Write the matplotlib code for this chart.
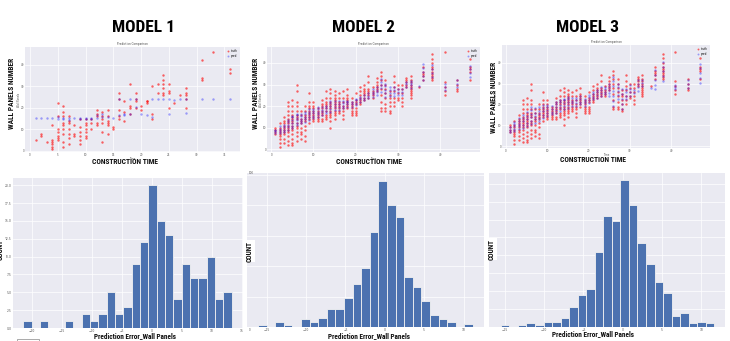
import matplotlib
matplotlib.use("Agg")
import matplotlib.pyplot as plt
import numpy as np
from matplotlib.patches import Rectangle

# ---- Model 1 scatter: construction time vs wall panels ----
m1_time = [1, 2, 3, 4, 5, 6, 7, 8, 9, 10, 11, 12, 13, 14, 15, 16, 17, 18,
           19, 20, 21, 22, 23, 24, 25, 26, 27, 28, 31, 33, 36]
m1_truth = [[5], [7, 8], [4], [12, 5, 4, 3, 2, 1], [22, 16, 10, 9, 7, 6, 5],
            [21, 18, 16, 13, 12, 10, 8, 4, 2], [16, 14, 13, 10, 8, 6, 3], [12, 8, 7],
            [15, 11, 9, 7, 5, 3], [15, 13, 12, 10, 9, 7, 6], [15, 13, 10],
            [19, 17, 16, 13, 12], [18, 16, 15, 13, 9, 4], [19, 16, 14, 13, 12, 8],
            [11, 10], [27, 24, 19, 16, 15], [23, 18, 14], [31, 21, 20, 17],
            [27, 24, 23, 20], [21, 19], [23, 23, 22], [30, 17, 15], [31, 27],
            [35, 33, 31, 29, 27, 26], [31, 28, 27, 20], [22], [26],
            [29, 27, 26, 24, 20], [42, 34, 33], [46], [38, 36]]
m1_pred = [[15.4], [15.4], [15.4], [15.4], [15.8, 15.0], [15.4, 15.0], [15.4, 14.5],
           [15.4], [15.4, 15.0], [15.4, 15.0], [15.4, 15.0], [16.5, 15.4], [17.3, 15.8],
           [15.8], [15.4], [23.9, 16.5], [17.3, 16.5], [24.2, 17.3], [24.2, 20.4],
           [17.0], [16.5], [24.2, 15.8], [24.2], [24.2], [24.2, 17.3], [23.5], [24.2],
           [24.2, 17.6], [24.2], [24.2], [24.2]]

# ---- Models 2 and 3 share the same test set (truth) ----
m23_time = list(range(1, 34)) + [35, 36, 38, 41, 44, 47]
m23_truth = [[7, 8, 9, 10], [1, 3, 5, 6, 7, 8, 9, 10, 12],
             [3, 5, 7, 8, 9, 10, 11, 12, 13, 15],
             [2, 4, 6, 8, 9, 10, 11, 12, 13, 14, 16, 18, 20, 22],
             [2, 3, 5, 7, 9, 10, 11, 12, 13, 14, 15, 16, 18, 20, 23],
             [4, 6, 8, 10, 11, 12, 14, 15, 16, 18, 20, 22, 27, 30],
             [5, 7, 8, 10, 12, 13, 14, 16, 18], [4, 6, 9, 11, 13, 14, 15, 16, 18, 20],
             [12, 14, 15, 16, 17, 18, 19, 20, 22, 26], [13, 14, 15, 16, 17, 18, 19, 20, 22],
             [13, 14, 15, 16, 17, 18, 19], [13, 14, 16, 17, 18, 19, 20, 21, 23],
             [14, 15, 16, 18, 19, 20, 21, 22, 24, 27],
             [10, 13, 15, 16, 17, 18, 19, 20, 21, 22, 24, 26, 28],
             [14, 16, 17, 18, 19, 20, 21, 22, 23, 24, 25, 27],
             [17, 18, 19, 20, 21, 22, 24, 26], [14, 16, 18, 19, 20, 22, 24, 27],
             [19, 20, 21, 22, 23, 24, 25, 28], [16, 17, 18, 19, 20, 21, 22, 24],
             [16, 17, 18, 19, 21, 22, 23, 26], [21, 22, 23, 24, 25, 27, 29],
             [23, 24, 25, 26, 27, 28, 30], [24, 25, 26, 27, 28, 31, 34],
             [24, 25, 26, 27, 29], [27, 28, 29, 30, 31, 33],
             [18, 19, 22, 25, 28, 30, 32, 34, 36], [18, 19, 21, 24, 26, 28, 30, 32],
             [17, 18, 20, 22, 24, 25, 27], [20, 22, 24, 27, 29, 31, 34],
             [23, 24, 26, 28, 30], [20, 22, 24, 26, 28, 30], [29, 30, 31, 32, 33],
             [24, 25, 26, 27, 28, 29, 30, 31, 32, 34], [29], [32, 34, 35, 36, 38],
             [32, 33, 34, 35, 36, 37, 38, 40, 42, 44], [25, 27, 29, 31, 45],
             [27, 28, 30, 32], [32, 36, 37, 38, 42]]
m2_pred = [[7.5, 8.3, 9.1], [7.6, 8.6, 9.6, 10.7], [8.2, 9.2, 10.2, 11.2],
           [9.0, 10.2, 11.4, 12.6, 13.8], [9.8, 11.0, 12.3, 13.6, 14.9, 15.6],
           [11.3, 12.4, 13.5, 14.6, 15.7, 16.4], [12.1, 13.2, 14.3, 15.4, 16.3],
           [12.9, 14.0, 15.1, 16.2, 17.1], [13.6, 14.9, 16.2, 17.5, 18.6],
           [14.4, 15.6, 16.8, 18.0, 18.7], [15.2, 16.3, 17.4, 18.5, 19.5],
           [16.0, 17.2, 18.4, 19.4], [16.7, 17.9, 19.1, 20.2],
           [17.5, 18.8, 20.1, 21.4, 22.5], [18.3, 19.6, 20.9, 22.2],
           [18.4, 19.7, 21.0, 22.3], [19.0, 20.2, 21.4, 22.6], [19.8, 20.8, 21.8, 22.6],
           [19.8, 20.9, 22.0], [20.6, 21.7, 22.8, 23.4], [22.1, 23.2, 24.3],
           [22.9, 24.0, 25.1], [23.7, 24.8, 25.9], [24.4, 25.6, 26.8, 27.9],
           [25.2, 26.4, 27.6, 28.7], [26.8, 28.3, 29.8, 31.3, 32.5],
           [24.4, 26.0, 27.6, 29.2, 30.2], [24.5, 26.0, 27.5, 28.7],
           [24.6, 26.1, 27.6, 28.8], [25.2, 26.5, 27.8], [25.3, 26.6, 28.0],
           [29.1, 30.1, 31.0], [28.3, 29.6, 30.9, 31.8], [29.2],
           [32.2, 34.1, 36.0, 37.9, 39.5], [33.7, 35.5, 37.3, 39.2],
           [27.5, 28.9, 30.2], [28.8, 30.4, 32.1], [33.7, 35.4, 37.1, 38.7]]
m3_pred = [[6.9, 8.0, 9.2], [7.3, 8.5, 9.7, 10.9, 11.7], [8.1, 9.5, 10.9, 12.3, 13.3],
           [8.9, 10.4, 11.9, 13.4, 14.9], [9.7, 11.3, 12.9, 14.5, 16.5],
           [10.5, 12.2, 13.9, 15.6, 17.3, 18.8], [11.3, 12.9, 14.5, 16.1, 18.1],
           [12.1, 13.7, 15.3, 16.9, 18.8], [13.7, 15.2, 16.7, 18.2, 19.6],
           [14.5, 15.9, 17.3, 18.7, 19.6], [15.3, 16.6, 17.9, 19.4],
           [16.1, 17.5, 18.9, 20.3, 21.2], [16.9, 18.3, 19.7, 21.1, 22.0],
           [17.7, 19.1, 20.5, 21.9, 22.8], [18.5, 19.9, 21.3, 22.7, 23.6],
           [19.2, 20.5, 21.8, 23.1], [19.3, 20.6, 21.9, 23.3], [20.0, 21.3, 22.6, 24.1],
           [19.2, 20.5, 21.8, 22.8], [20.8, 22.1, 23.4, 24.4], [22.4, 23.7, 25.0, 26.0],
           [23.2, 24.5, 25.8, 26.8], [24.0, 25.4, 26.8, 28.1], [24.8, 26.1, 27.4, 28.4],
           [24.0, 25.5, 27.0, 28.5, 30.0], [19.2, 21.6, 24.0, 26.4, 28.8, 31.2, 33.1],
           [22.4, 24.3, 26.2, 28.1, 30.0], [17.7, 20.1, 22.5, 24.9, 27.6],
           [22.4, 24.2, 26.0, 27.6], [24.0, 25.8, 27.6, 29.2], [25.5, 27.0],
           [26.4, 28.2, 30.0, 31.5], [28.8, 30.2, 31.5], [27.8],
           [27.2, 29.5, 31.8, 34.1, 36.3], [31.2, 33.5, 35.8, 38.1, 40.3],
           [27.2, 28.3, 29.2], [28.0, 29.9, 31.5], [30.4, 32.8, 35.2, 37.6, 39.5]]

# ---- Prediction error histograms (counts per bin) ----
h1_counts = [1, 0, 1, 0, 0, 1, 0, 2, 1, 2, 5, 2, 3, 9, 12, 20, 15, 13, 4, 9, 7, 7, 10, 4, 5]
h1_range = (-21.4, 13.3)
h2_counts = [1, 0, 3, 1, 0, 5, 3, 6, 12, 12, 19, 28, 39, 62, 96, 80, 72, 33, 26, 17, 8, 5, 3, 0, 2]
h2_range = (-16.1, 11.2)
h3_counts = [1, 0, 1, 2, 1, 3, 3, 5, 11, 18, 21, 42, 62, 59, 82, 68, 47, 35, 25, 19, 6, 8, 2, 3, 2]
h3_range = (-15.5, 11.65)

W, H = 730, 341
fig = plt.figure(figsize=(W / 100, H / 100), dpi=100)
fig.patch.set_facecolor("white")

BG = "#EAEAF2"
COND = ["Roboto Condensed", "DejaVu Sans"]


def add_px_axes(x0, y0, x1, y1):
    ax = fig.add_axes([x0 / W, 1 - y1 / H, (x1 - x0) / W, (y1 - y0) / H])
    ax.set_facecolor(BG)
    for s in ax.spines.values():
        s.set_visible(False)
    ax.grid(True, color="white", linewidth=0.5)
    ax.set_axisbelow(True)
    ax.tick_params(length=0, labelsize=2, labelcolor="#555555", pad=0.6)
    return ax


def ftext(x, y, s, **kw):
    return fig.text(x / W, 1 - y / H, s, **kw)


def scatter_panel(box, times, truth, pred, xticks, xlim, ylim):
    ax = add_px_axes(*box)
    tx = [t for t, ys in zip(times, truth) for _ in ys]
    ty = [v for ys in truth for v in ys]
    px = [t for t, ys in zip(times, pred) for _ in ys]
    py = [v for ys in pred for v in ys]
    ax.scatter(tx, ty, s=3, color="red", alpha=0.6, linewidths=0, label="truth")
    ax.scatter(px, py, s=3, color="blue", alpha=0.35, linewidths=0, label="pred")
    ax.set_xlim(*xlim)
    ax.set_ylim(*ylim)
    ax.set_xticks(xticks)
    ax.set_yticks([0, 10, 20, 30, 40])
    ax.set_title("Prediction Comparison", fontsize=2, pad=1.5, color="#444444")
    ax.set_xlabel("Time", fontsize=1.8, labelpad=0.1, color="#444444")
    ax.set_ylabel("Wall Panels", fontsize=1.8, labelpad=0.2, color="#444444")
    ax.legend(loc="upper right", fontsize=2, markerscale=0.8, frameon=False,
              handletextpad=0.2, borderaxespad=0.4, labelspacing=0.3)
    return ax


def hist_panel(box, counts, rng, xticks, yticks, ylim, xlim, ylabels=False):
    ax = add_px_axes(*box)
    edges = np.linspace(rng[0], rng[1], len(counts) + 1)
    ax.bar(edges[:-1], counts, width=np.diff(edges), align="edge",
           color="#4C72B0", edgecolor="#F2F2F2", linewidth=0.6)
    ax.set_xlim(*xlim)
    ax.set_ylim(*ylim)
    ax.set_xticks(xticks)
    ax.set_yticks(yticks)
    if not ylabels:
        ax.set_yticklabels([])
    ax.tick_params(labelsize=2.2, pad=0.8)
    return ax


# scatter row
scatter_panel((25, 47, 240, 152), m1_time, m1_truth, m1_pred,
              [0, 5, 10, 15, 20, 25, 30, 35], (-0.9, 37.8), (-0.5, 48.2))
scatter_panel((267, 47, 480, 152), m23_time, m23_truth, m2_pred,
              [0, 10, 20, 30, 40], (-1.0, 49.4), (-1.2, 47.4))
scatter_panel((502, 45, 710, 148), m23_time, m23_truth, m3_pred,
              [0, 10, 20, 30, 40], (-1.0, 49.4), (-0.8, 48.4))

# histogram row
h1 = hist_panel((13, 178, 243, 328), h1_counts, h1_range,
                [-20, -15, -10, -5, 0, 5, 10, 15], np.arange(0, 20.1, 2.5),
                (0, 21), (-23.1, 15.2), ylabels=True)
h1.set_yticklabels([f"{v:.1f}" for v in np.arange(0, 20.1, 2.5)])
hist_panel((247, 173, 484, 327), h2_counts, h2_range,
           [-15, -10, -5, 0, 5, 10], [0, 20, 40, 60, 80, 100], (0, 101), (-17.5, 12.6))
hist_panel((489, 173, 725, 327), h3_counts, h3_range,
           [-15, -10, -5, 0, 5, 10], np.arange(0, 81, 10), (0, 86), (-17.0, 13.0))

# big panel labels
for cx, s in [(144, "MODEL 1"), (363, "MODEL 2"), (588, "MODEL 3")]:
    ftext(cx, 28, s, family=COND, weight="bold", fontsize=12.5,
          ha="center", va="center", color="black")

lab = dict(family=COND, weight="bold", color="#111111", ha="center", va="center")
for x, y in [(12, 93), (256, 93), (494.5, 97)]:
    ftext(x, y, "WALL PANELS NUMBER", rotation=90, fontsize=5.4, **lab)
for x, y in [(125, 162.5), (369, 162.5), (593, 160.5)]:
    ftext(x, y, "CONSTRUCTION TIME", fontsize=5.4, **lab)
for x, y in [(135, 336.5), (369, 336), (593, 334.5)]:
    ftext(x, y, "Prediction Error_Wall Panels", fontsize=5.2, **lab)
for x, y in [(1, 250), (250, 251), (492, 249)]:
    ftext(x, y, "COUNT", rotation=90, fontsize=5.2,
          bbox=dict(facecolor="white", edgecolor="none", pad=0.4), **lab)

ftext(251, 173, "100", fontsize=2, color="#555555", ha="center", va="center")
ftext(250, 330, "0", fontsize=2, color="#555555", ha="center", va="center")

fig.patches.append(Rectangle((17 / W, 0 / H), 22 / W, 2.5 / H, transform=fig.transFigure,
                             fill=False, edgecolor="#888888", linewidth=0.5))

fig.savefig("out.png", dpi=100, facecolor="white")
